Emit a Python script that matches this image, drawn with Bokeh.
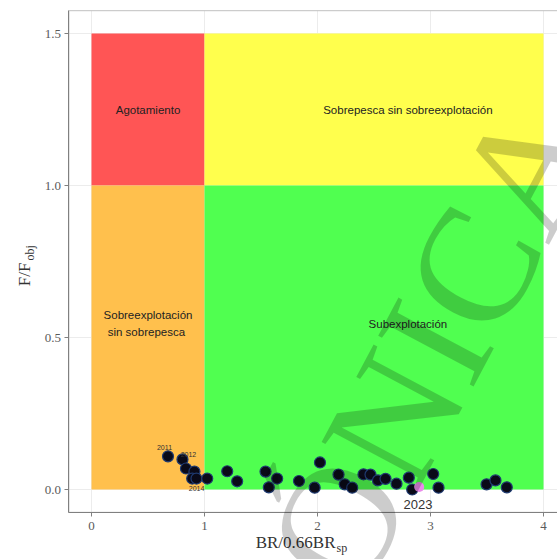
import math
from bokeh.plotting import figure
from bokeh.models import Label, Range1d, ColumnDataSource, FixedTicker, PrintfTickFormatter
from bokeh.embed import file_html
from bokeh.resources import INLINE
from bokeh.core.properties import value

# ---- data ----
zone_left = [0, 1, 0, 1]
zone_right = [1, 4, 1, 4]
zone_bottom = [1, 1, 0, 0]
zone_top = [1.5, 1.5, 1, 1]
zone_color = ["#FF5555", "#FFFF4D", "#FFC04D", "#50FF50"]

zone_label_x = [0.5, 2.8, 0.5, 2.8]
zone_label_y = [1.25, 1.25, 0.545, 0.545]
zone_label_text = ["Agotamiento", "Sobrepesca sin sobreexplotación",
                   "Sobreexplotación\n sin sobrepesca", "Subexplotación"]

br = [0.677, 0.805, 0.836, 0.911, 0.891, 0.929, 1.024, 1.201, 1.289, 1.540,
      1.569, 1.643, 1.836, 2.022, 1.975, 2.186, 2.241, 2.307, 2.407, 2.469,
      2.535, 2.602, 2.699, 2.808, 2.838, 3.024, 3.071, 3.496, 3.575, 3.675]
f = [0.109, 0.099, 0.069, 0.059, 0.036, 0.036, 0.036, 0.060, 0.027, 0.059,
     0.007, 0.036, 0.028, 0.089, 0.006, 0.049, 0.017, 0.006, 0.050, 0.049,
     0.030, 0.035, 0.019, 0.039, 0.000, 0.051, 0.006, 0.017, 0.030, 0.007]

last_br = [2.90]
last_f = [0.008]
last_label = ["2023"]
last_label_x = [2.89]
last_label_y = [-0.049]

year_labels = ["2011", "2012", "2014"]
year_label_x = [0.646, 0.858, 0.93]
year_label_y = [0.138, 0.115, 0.003]

x_ticks = [0, 1, 2, 3, 4]
y_ticks = [0, 0.5, 1.0, 1.5]

# ---- layout (pixel geometry of the canvas) ----
W, H = 557, 559
PX0, PXU = 91.0, 113.0     # canvas x of BR=0, pixels per unit
PY0, PYU = 489.0, 304.0    # canvas y of F=0, pixels per unit
panel_x = (-0.2, 4.2)
panel_y = (-0.075, 1.575)

def xd(cx):
    return (cx - PX0) / PXU

def yd(cy):
    return (PY0 - cy) / PYU

p = figure(width=W, height=H, output_backend="svg", toolbar_location=None,
           x_range=Range1d(xd(0), xd(W)), y_range=Range1d(yd(H), yd(0)),
           min_border=0)
p.background_fill_color = "white"
p.border_fill_color = "white"
p.outline_line_color = None
p.xgrid.grid_line_color = None
p.ygrid.grid_line_color = None

p.xaxis.ticker = FixedTicker(ticks=x_ticks)
p.yaxis.ticker = FixedTicker(ticks=y_ticks)
p.yaxis.formatter = PrintfTickFormatter(format="%.1f")
p.xaxis.fixed_location = panel_y[0]
p.yaxis.fixed_location = panel_x[0]
p.xaxis.bounds = panel_x
p.yaxis.bounds = panel_y
for ax in (p.xaxis, p.yaxis):
    ax.axis_line_color = "#808080"
    ax.major_tick_line_color = "#808080"
    ax.major_tick_in = 0
    ax.major_tick_out = 4
    ax.minor_tick_line_color = None
    ax.major_label_text_font = "Liberation Serif"
    ax.major_label_text_font_size = "13px"
    ax.major_label_text_color = "#5a5a5a"
p.xaxis.major_label_standoff = 6
p.yaxis.major_label_standoff = 4

# panel: grid + border
p.segment(x0=x_ticks, x1=x_ticks, y0=[panel_y[0]] * len(x_ticks),
          y1=[panel_y[1]] * len(x_ticks), line_color="#ececec", line_width=1)
p.segment(x0=[panel_x[0]] * len(y_ticks), x1=[panel_x[1]] * len(y_ticks),
          y0=y_ticks, y1=y_ticks, line_color="#ececec", line_width=1)
p.quad(left=[panel_x[0]], right=[panel_x[1]], bottom=[panel_y[0]], top=[panel_y[1]],
       fill_color=None, line_color="#c0c0c0", line_width=1)

zones = ColumnDataSource(dict(left=zone_left, right=zone_right, bottom=zone_bottom,
                              top=zone_top, color=zone_color))
p.quad(left="left", right="right", bottom="bottom", top="top", fill_color="color",
       line_color=None, source=zones)

p.text(x=zone_label_x, y=zone_label_y, text=zone_label_text,
       text_font=value("Liberation Sans"), text_font_size="11.5px",
       text_color="#222222", text_align="center", text_baseline="middle",
       text_line_height=1.4)

p.scatter(br, f, size=11, fill_color="#0a0a18", line_color="#1f3a70", line_width=1.2)
p.scatter(last_br, last_f, size=10, fill_color="#E98BEA", line_color=None)

p.text(x=year_label_x, y=year_label_y, text=year_labels,
       text_font=value("Liberation Sans"), text_font_size="7px",
       text_color="#333333", text_align="center", text_baseline="middle")
p.text(x=last_label_x, y=last_label_y, text=last_label,
       text_font=value("Liberation Sans"), text_font_size="13px",
       text_color="#333333", text_align="center", text_baseline="middle")

# axis titles with subscripts
title_font = "Liberation Serif"
p.add_layout(Label(x=xd(335), y=yd(542), text="BR/0.66BR", text_align="right",
                   text_baseline="middle", text_font=title_font,
                   text_font_size="17px", text_color="#333333"))
p.add_layout(Label(x=xd(336), y=yd(547), text="sp", text_align="left",
                   text_baseline="middle", text_font=title_font,
                   text_font_size="12px", text_color="#333333"))
p.add_layout(Label(x=xd(24), y=yd(262), text="F/F", angle=math.pi / 2,
                   text_align="right", text_baseline="middle",
                   text_font=title_font, text_font_size="17px",
                   text_color="#333333"))
p.add_layout(Label(x=xd(29), y=yd(260), text="obj", angle=math.pi / 2,
                   text_align="left", text_baseline="middle",
                   text_font=title_font, text_font_size="12px",
                   text_color="#333333"))

# watermark
p.add_layout(Label(x=xd(432), y=yd(345), text="ÓNICA", angle=math.radians(62),
                   text_align="center", text_baseline="middle",
                   text_font=title_font, text_font_size="165px",
                   text_color="black", text_alpha=0.2))

open("out.html", "w").write(file_html(p, INLINE))
